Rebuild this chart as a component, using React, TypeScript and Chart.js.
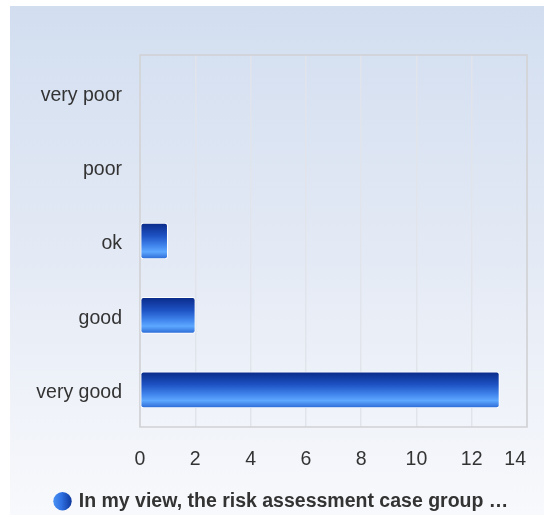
import React, { useEffect, useRef } from "react";
import { Chart, registerables } from "chart.js";

Chart.register(...registerables);

const categories: string[] = ["very poor", "poor", "ok", "good", "very good"];
const seriesValues: number[] = [0, 0, 1, 2, 13];
const seriesName = "In my view, the risk assessment case group …";
const xMin = 0;
const xMax = 14;
const xStep = 2;

const FONT = "'Liberation Sans', Arial, sans-serif";
const LEGEND_SHIFT = 22;
const LEGEND_PAD = 10;

function barGradient(ctx: CanvasRenderingContext2D, top: number, bottom: number) {
  const g = ctx.createLinearGradient(0, top, 0, bottom);
  g.addColorStop(0, "#0a2a88");
  g.addColorStop(0.35, "#1d51c2");
  g.addColorStop(0.62, "#3f83ec");
  g.addColorStop(0.8, "#5ea8ff");
  g.addColorStop(1, "#2a68d4");
  return g;
}

const framePlugin = {
  id: "frame",
  beforeDatasetsDraw(chart: any) {
    const { ctx, chartArea: a } = chart;
    ctx.save();
    ctx.strokeStyle = "#cfd1d4";
    ctx.lineWidth = 1.5;
    ctx.strokeRect(a.left, a.top, a.right - a.left, a.bottom - a.top);
    ctx.restore();
  },
};

const lastTickPlugin = {
  id: "lastTickInside",
  beforeDraw(chart: any) {
    const x = chart.scales.x;
    if (!x || !x.getLabelItems) return;
    const items = x.getLabelItems(chart.chartArea);
    if (!items || !items.length) return;
    const last = items[items.length - 1];
    if (last && last.options && last.options.textAlign !== "right") {
      last.options.textAlign = "right";
      last.options.translation = [last.options.translation[0] - 1, last.options.translation[1]];
    }
  },
};

const legendPlugin = {
  id: "legendTweak",
  afterLayout(chart: any) {
    const lg = chart.legend;
    if (!lg) return;
    lg.left += LEGEND_SHIFT;
    lg.right += LEGEND_SHIFT;
  },
  beforeDraw(chart: any) {
    const lg = chart.legend;
    if (!lg || !lg.legendItems || !lg.legendItems[0]) return;
    const start = lg.left + LEGEND_PAD;
    const g = chart.ctx.createLinearGradient(start - 3, 0, start + 16, 0);
    g.addColorStop(0, "#4a92f4");
    g.addColorStop(0.45, "#2f70e2");
    g.addColorStop(1, "#0d369a");
    lg.legendItems[0].fillStyle = g;
    lg.legendItems[0].strokeStyle = g;
  },
};

export default function App() {
  const ref = useRef<HTMLCanvasElement | null>(null);

  useEffect(() => {
    const canvas = ref.current;
    if (!canvas) return;
    const BAR = 36;
    const chart = new Chart(canvas, {
      type: "bar",
      data: {
        labels: categories,
        datasets: [
          {
            label: seriesName,
            data: seriesValues,
            barThickness: BAR,
            borderColor: "#ffffff",
            borderWidth: 1,
            borderRadius: 3,
            borderSkipped: false,
            backgroundColor: (c: any) => {
              const ch = c.chart;
              const y = ch.scales && ch.scales.y;
              if (!y || c.dataIndex === undefined) return "#2a68d4";
              const center = y.getPixelForValue(c.dataIndex);
              return barGradient(ch.ctx, center - BAR / 2, center + BAR / 2);
            },
          },
        ],
      },
      options: {
        indexAxis: "y",
        animation: false,
        responsive: false,
        maintainAspectRatio: false,
        layout: { padding: { left: 14, right: 17, top: 49, bottom: 0 } },
        scales: {
          x: {
            min: xMin,
            max: xMax,
            ticks: {
              stepSize: xStep,
              color: "#333333",
              padding: 21,
              font: { family: FONT, size: 19.5 },
            },
            grid: { color: "#e1e5eb", drawTicks: false, lineWidth: 1.5 },
            border: { display: false },
            afterFit: (s: any) => {
              s.height = 54.5;
              s.paddingRight = 0;
              s.paddingLeft = 0;
            },
          },
          y: {
            ticks: {
              color: "#333333",
              padding: 18,
              labelOffset: 3,
              font: { family: FONT, size: 19.5 },
            },
            grid: { display: false, drawTicks: false },
            border: { display: false },
            afterFit: (s: any) => {
              s.width = 116;
            },
          },
        },
        plugins: {
          tooltip: { enabled: false },
          legend: {
            position: "bottom",
            align: "start",
            labels: {
              usePointStyle: true,
              pointStyle: "circle",
              boxWidth: 13,
              boxHeight: 13,
              padding: LEGEND_PAD,
              color: "#333333",
              font: { family: FONT, size: 19.5, weight: "bold" },
              generateLabels: () => [
                {
                  text: seriesName,
                  fillStyle: "#2f6fe0",
                  strokeStyle: "#2f6fe0",
                  lineWidth: 0,
                  pointStyle: "circle",
                  hidden: false,
                  datasetIndex: 0,
                  fontColor: "#333333",
                },
              ],
            },
          },
        },
      },
      plugins: [framePlugin, lastTickPlugin, legendPlugin],
    } as any);
    return () => chart.destroy();
  }, []);

  return (
    <div
      style={{
        position: "absolute",
        left: 10,
        top: 6,
        width: 534,
        height: 509,
        overflow: "hidden",
        background: "linear-gradient(to bottom, #d2def0 0%, #e4eaf5 50%, #f8f9fc 100%)",
      }}
    >
      <canvas ref={ref} width={534} height={515} style={{ display: "block" }} />
    </div>
  );
}
